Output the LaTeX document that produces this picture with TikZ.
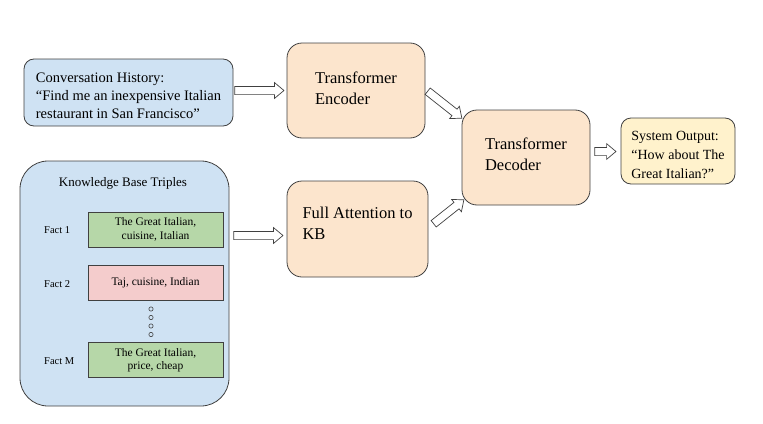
\documentclass[tikz,border=0pt]{standalone}
\usepackage{fontspec}
\setmainfont{Liberation Serif}
\usetikzlibrary{shapes.arrows,calc}
\definecolor{cblue}{HTML}{CFE2F3}
\definecolor{cpeach}{HTML}{FCE5CD}
\definecolor{cyellow}{HTML}{FFF2CC}
\definecolor{cgreen}{HTML}{B6D7A8}
\definecolor{cpink}{HTML}{F4CCCC}
\definecolor{cedge}{HTML}{404040}
\tikzset{
 box/.style={draw=cedge, line width=0.8pt, inner sep=0pt},
 big/.style={box, fill=cpeach, rounded corners=15pt},
 bigtext/.style={align=left, inner sep=0pt, font=\fontsize{16.5}{21}\selectfont},
 smalltext/.style={align=left, inner sep=0pt},
 fact/.style={draw=cedge, line width=0.6pt, minimum width=135pt, minimum height=35pt, align=center, inner sep=0pt, font=\fontsize{11.5}{13.5}\selectfont},
 factlabel/.style={anchor=west, inner sep=0pt, font=\fontsize{10.5}{12}\selectfont},
 harr/.style={single arrow, draw=cedge, fill=white, line width=0.7pt, inner ysep=3.75pt, inner xsep=0pt, minimum width=15pt, single arrow tip angle=80, single arrow head extend=3.75pt},
 dotc/.style={circle, draw=cedge, line width=0.6pt, inner sep=0pt, minimum size=4.3pt}
}
\newcommand\hollowarrow[2]{%
  \path let \p1=(#1), \p2=(#2), \n1={atan2(\y2-\y1,\x2-\x1)}, \n2={veclen(\x2-\x1,\y2-\y1)} in
    node[harr, minimum height=\n2, rotate=\n1, anchor=tail] at (\p1) {};}
\begin{document}
\begin{tikzpicture}[x=1pt,y=-1pt]
\useasboundingbox (0,0) rectangle (763,423);
% conversation
\node[box, fill=cblue, rounded corners=10pt, minimum width=209pt, minimum height=67pt] (conv) at (128.5,92.5) {};
\node[smalltext, font=\fontsize{14.5}{18}\selectfont] (convtext) at ($(conv.center)+(0,3)$) {Conversation History:\\“Find me an inexpensive Italian\\restaurant in San Francisco”};
% knowledge base
\node[box, fill=cblue, rounded corners=28pt, minimum width=209pt, minimum height=245pt] (kb) at (124.5,283.5) {};
\node[font=\fontsize{13}{15}\selectfont, inner sep=0pt] (kbtitle) at (123,183) {Knowledge Base Triples};
\node[fact, fill=cgreen] (f1) at (155.5,229.5) {The Great Italian,\\cuisine, Italian};
\node[fact, fill=cpink] (f2) at (155.5,283) {Taj, cuisine, Indian};
\node[fact, fill=cgreen] (fm) at (155.5,360) {The Great Italian,\\price, cheap};
\node[factlabel] (l1) at (44,230) {Fact 1};
\node[factlabel] (l2) at (44,284) {Fact 2};
\node[factlabel] (lm) at (44,361) {Fact M};
\foreach \i/\yy in {1/309,2/317.5,3/326,4/334.5} \node[dotc] (d\i) at (151,\yy) {};
% processing boxes
\node[big, minimum width=138pt, minimum height=95pt] (enc) at (356,90.5) {};
\node[bigtext] (enctext) at ($(enc.center)+(0,-2.5)$) {Transformer\\Encoder};
\node[big, minimum width=141pt, minimum height=96pt] (att) at (357.5,229) {};
\node[bigtext] (atttext) at ($(att.center)+(0,-5.5)$) {Full Attention to\\KB};
\node[big, minimum width=128pt, minimum height=95pt] (dec) at (526,157.5) {};
\node[bigtext] (dectext) at ($(dec.center)+(0,-3.5)$) {Transformer\\Decoder};
\node[box, fill=cyellow, rounded corners=10pt, minimum width=114pt, minimum height=66pt] (out) at (678,151) {};
\node[smalltext, font=\fontsize{14}{19}\selectfont] (outtext) at ($(out.center)+(0,3.5)$) {System Output:\\“How about The\\Great Italian?”};
% arrows
\coordinate (a1s) at ($(conv.east)+(1,-2)$);
\coordinate (a1e) at ($(enc.west)+(-3,0)$);
\coordinate (a2s) at ($(kb.east)+(4,-48)$);
\coordinate (a2e) at ($(att.west)+(-4,6.5)$);
\coordinate (a3s) at ($(enc.east)+(2,0.5)$);
\coordinate (a3e) at ($(dec.west)+(0,-39.5)$);
\coordinate (a4s) at ($(att.east)+(5,-5)$);
\coordinate (a4e) at ($(dec.west)+(2,42.5)$);
\coordinate (a5s) at ($(dec.east)+(4,-6)$);
\coordinate (a5e) at ($(out.west)+(-5,0.5)$);
\hollowarrow{a1s}{a1e}
\hollowarrow{a2s}{a2e}
\hollowarrow{a3s}{a3e}
\hollowarrow{a4s}{a4e}
\hollowarrow{a5s}{a5e}
\end{tikzpicture}
\end{document}
